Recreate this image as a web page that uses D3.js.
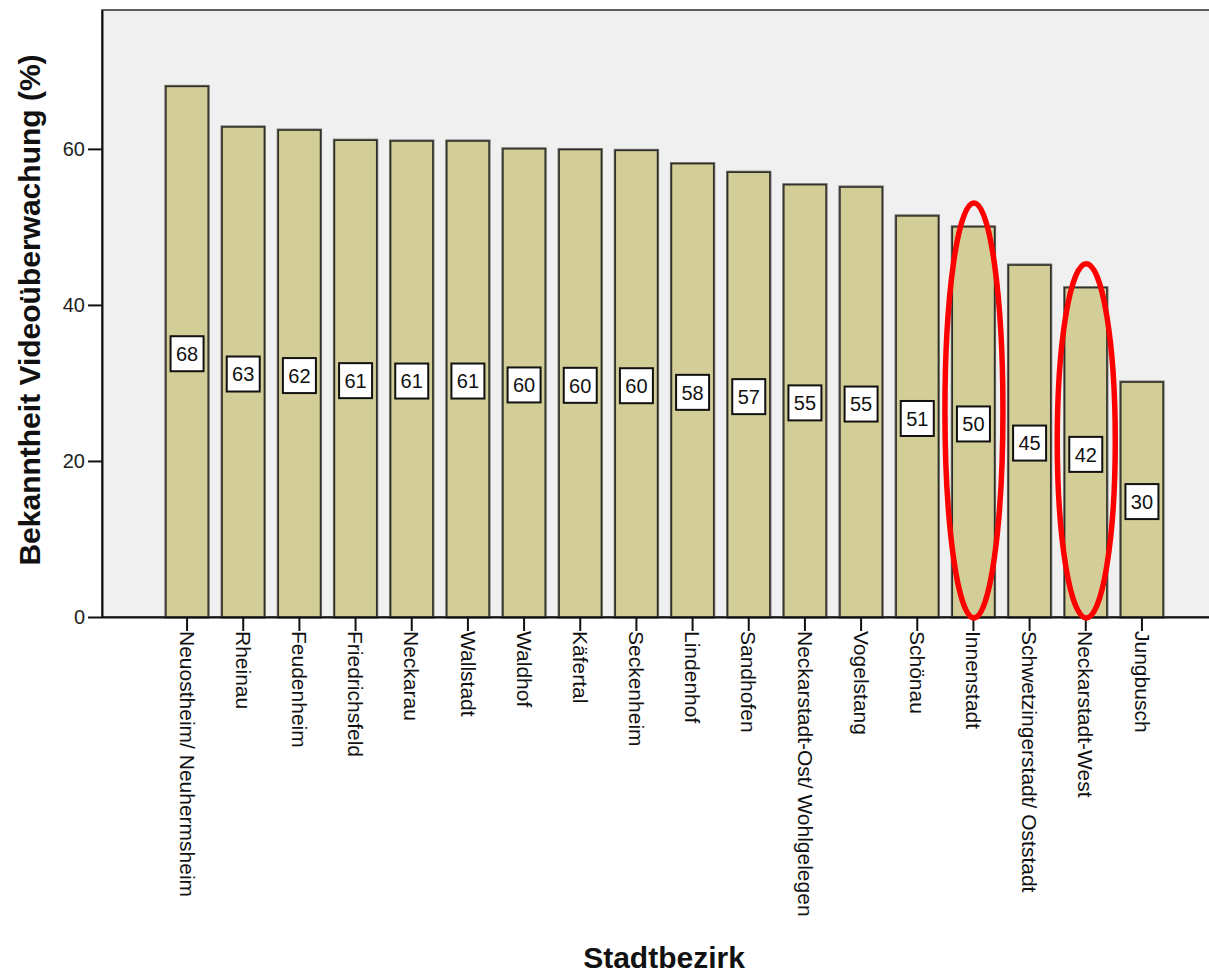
<!DOCTYPE html>
<html>
<head>
<meta charset="utf-8">
<script src="https://cdn.jsdelivr.net/npm/d3@7"></script>
<style>
  html, body { margin: 0; padding: 0; background: #ffffff; }
  svg { display: block; }
  text { font-family: Arial, "Liberation Sans", sans-serif; }
</style>
</head>
<body>
<svg id="chart" width="1209" height="974"></svg>
<script>
// Districts (Stadtbezirke), sorted by awareness of video surveillance
const districts = [
  "Neuostheim/ Neuhermsheim", "Rheinau", "Feudenheim", "Friedrichsfeld",
  "Neckarau", "Wallstadt", "Waldhof", "Käfertal", "Seckenheim", "Lindenhof",
  "Sandhofen", "Neckarstadt-Ost/ Wohlgelegen", "Vogelstang", "Schönau",
  "Innenstadt", "Schwetzingerstadt/ Oststadt", "Neckarstadt-West", "Jungbusch"
];
// Share of respondents aware of video surveillance (%)
const awareness = [
  68.0, 62.8, 62.4, 61.1, 61.0, 61.0, 60.0, 59.9, 59.8, 58.1,
  57.0, 55.4, 55.1, 51.4, 50.0, 45.1, 42.2, 30.1
];
const yTicks = [0, 20, 40, 60];
// Districts circled in red
const highlighted = ["Innenstadt", "Neckarstadt-West"];

const yTitle = "Bekanntheit Videoüberwachung (%)";
const xTitle = "Stadtbezirk";

const data = districts.map((d, i) => ({ name: d, value: awareness[i] }));

const svg = d3.select("#chart");
const plot = { left: 102, right: 1209, top: 10, bottom: 617 };

const x = d3.scaleBand()
  .domain(districts)
  .range([166, 1163])
  .paddingInner(0.25)
  .paddingOuter(0);

const y = d3.scaleLinear()
  .domain([0, 77.8])
  .range([plot.bottom, plot.top]);

// plot background
svg.append("rect")
  .attr("x", plot.left).attr("y", plot.top)
  .attr("width", plot.right - plot.left + 2)
  .attr("height", plot.bottom - plot.top)
  .attr("fill", "#f0f0f0")
  .attr("stroke", "#3a3a3a")
  .attr("stroke-width", 1.6);

// soft shadow for bars
const defs = svg.append("defs");
const f = defs.append("filter").attr("id", "soft")
  .attr("x", "-10%").attr("y", "-10%").attr("width", "120%").attr("height", "120%");
f.append("feGaussianBlur").attr("stdDeviation", 0.6);

// bars
const bars = svg.append("g");
bars.selectAll("rect.shadow")
  .data(data).join("rect")
  .attr("class", "shadow")
  .attr("x", d => x(d.name))
  .attr("y", d => y(d.value))
  .attr("width", x.bandwidth())
  .attr("height", d => y(0) - y(d.value))
  .attr("fill", "none")
  .attr("stroke", "#6a6a60")
  .attr("stroke-width", 3.2)
  .attr("filter", "url(#soft)");
bars.selectAll("rect.bar")
  .data(data).join("rect")
  .attr("class", "bar")
  .attr("x", d => x(d.name))
  .attr("y", d => y(d.value))
  .attr("width", x.bandwidth())
  .attr("height", d => y(0) - y(d.value))
  .attr("fill", "#d3ce97")
  .attr("stroke", "#2e2e2a")
  .attr("stroke-width", 1.4);

// value labels in white boxes at mid-height
const fmt = d3.format(".0f");
const lbl = svg.append("g").selectAll("g")
  .data(data).join("g")
  .attr("transform", d => `translate(${x(d.name) + x.bandwidth() / 2},${y(d.value / 2) + 2})`);
lbl.append("rect")
  .attr("x", -16.5).attr("y", -17.5)
  .attr("width", 33).attr("height", 35)
  .attr("fill", "#ffffff")
  .attr("stroke", "#111")
  .attr("stroke-width", 2);
lbl.append("text")
  .attr("text-anchor", "middle")
  .attr("dy", "0.36em")
  .attr("font-size", 20)
  .attr("fill", "#111")
  .text(d => fmt(d.value));

// y axis
const yAxis = d3.axisLeft(y).tickValues(yTicks).tickSize(14).tickSizeOuter(0)
  .tickPadding(3).tickFormat(d3.format("d"));
const gy = svg.append("g")
  .attr("transform", `translate(${plot.left},0)`)
  .call(yAxis);
gy.select(".domain").attr("stroke", "#111").attr("stroke-width", 2);
gy.selectAll(".tick line").attr("stroke", "#111").attr("stroke-width", 2);
gy.selectAll(".tick text")
  .attr("font-size", 20).attr("fill", "#222")
  .attr("font-family", "Arial, 'Liberation Sans', sans-serif");

// x axis
const xAxis = d3.axisBottom(x).tickSize(14).tickSizeOuter(0);
const gx = svg.append("g")
  .attr("transform", `translate(0,${plot.bottom})`)
  .call(xAxis);
gx.select(".domain")
  .attr("d", `M${plot.left},0.5H${plot.right + 2}`)
  .attr("stroke", "#111").attr("stroke-width", 2);
gx.selectAll(".tick line").attr("stroke", "#111").attr("stroke-width", 2);
gx.selectAll(".tick text")
  .attr("font-size", 21).attr("fill", "#111")
  .attr("font-family", "Arial, 'Liberation Sans', sans-serif")
  .attr("text-anchor", "start")
  .attr("transform", "rotate(90)")
  .attr("x", 14)
  .attr("y", 0)
  .attr("dy", "0.35em");

// red ellipses around highlighted districts
svg.append("g").selectAll("ellipse")
  .data(data.filter(d => highlighted.includes(d.name)))
  .join("ellipse")
  .attr("cx", d => x(d.name) + x.bandwidth() / 2 + 0.5)
  .attr("cy", d => ((y(d.value) - 24) + (y(0) + 1)) / 2)
  .attr("rx", 29)
  .attr("ry", d => ((y(0) + 1) - (y(d.value) - 24)) / 2)
  .attr("fill", "none")
  .attr("stroke", "#ff0000")
  .attr("stroke-width", 5.5);

// axis titles
svg.append("text")
  .attr("transform", `translate(40,310) rotate(-90)`)
  .attr("text-anchor", "middle")
  .attr("font-size", 30)
  .attr("font-weight", "bold")
  .attr("fill", "#111")
  .text(yTitle);

svg.append("text")
  .attr("x", 664).attr("y", 968)
  .attr("text-anchor", "middle")
  .attr("font-size", 30)
  .attr("font-weight", "bold")
  .attr("fill", "#111")
  .text(xTitle);
</script>
</body>
</html>
